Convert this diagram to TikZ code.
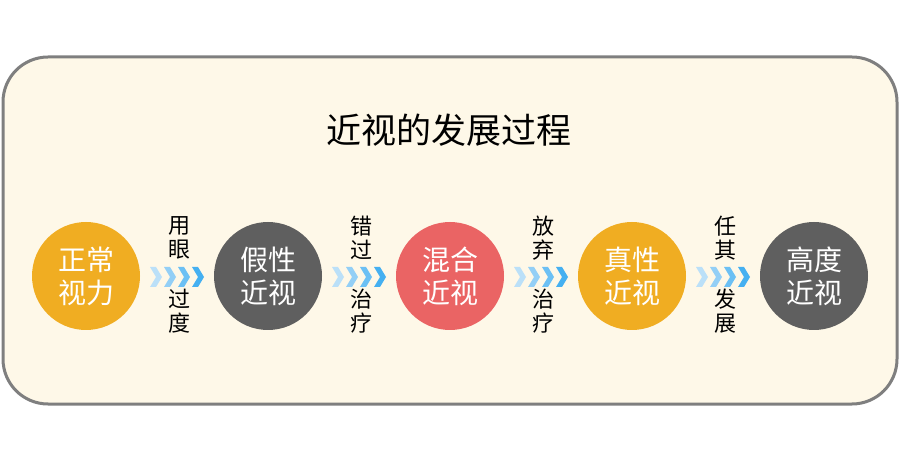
\documentclass[tikz,border=0pt]{standalone}
\usepackage{fontspec}
\setmainfont{Noto Sans CJK SC}
\usetikzlibrary{calc}
\definecolor{bg}{HTML}{FEF8E8}
\definecolor{border}{HTML}{7F7F7F}
\definecolor{corange}{HTML}{F0AD22}
\definecolor{cgray}{HTML}{5F5F5F}
\definecolor{cred}{HTML}{EA6464}
\definecolor{chA}{HTML}{BBE0F8}
\definecolor{chB}{HTML}{93CFF6}
\definecolor{chC}{HTML}{6CC0F4}
\definecolor{chD}{HTML}{45B0F1}
\begin{document}
\begin{tikzpicture}[x=1pt,y=-1pt,
  stage/.style={circle, minimum size=108pt, inner sep=0pt, text=white, align=center, font=\fontsize{28}{33}\selectfont},
  lab/.style={align=center, inner sep=0pt, text=black, font=\fontsize{22}{23.5}\selectfont}]
\useasboundingbox (0,0) rectangle (900,462);
\draw[line width=3pt, draw=border, fill=bg, rounded corners=45pt] (3,57) rectangle (897,404);
\node[font=\fontsize{35}{40}\selectfont] (title) at (449,130) {近视的发展过程};
\node[stage, fill=corange] (c1) at (86,276) {正常\\视力};
\node[stage, fill=cgray] (c2) at (268,276) {假性\\近视};
\node[stage, fill=cred] (c3) at (450,276) {混合\\近视};
\node[stage, fill=corange] (c4) at (632,276) {真性\\近视};
\node[stage, fill=cgray] (c5) at (814,276) {高度\\近视};
\coordinate (g1) at ($(c1.east)!0.5!(c2.west)$);
\coordinate (g2) at ($(c2.east)!0.5!(c3.west)$);
\coordinate (g3) at ($(c3.east)!0.5!(c4.west)$);
\coordinate (g4) at ($(c4.east)!0.5!(c5.west)$);
\foreach \g in {g1,g2,g3,g4} {
  \foreach \i/\c in {0/chA,1/chB,2/chC,3/chD} {
    \fill[\c] ($(\g)+(-27+14*\i,-9)$) -- ++(6,0) -- ++(6,10) -- ++(-6,10) -- ++(-6,0) -- ++(6,-10) -- cycle;
  }
}
\node[lab] (t1) at ($(g1)+(2,-38)$) {用\\眼};
\node[lab] (b1) at ($(g1)+(2,35)$) {过\\度};
\node[lab] (t2) at ($(g2)+(2,-38)$) {错\\过};
\node[lab] (b2) at ($(g2)+(2,35)$) {治\\疗};
\node[lab] (t3) at ($(g3)+(2,-38)$) {放\\弃};
\node[lab] (b3) at ($(g3)+(2,35)$) {治\\疗};
\node[lab] (t4) at ($(g4)+(2,-38)$) {任\\其};
\node[lab] (b4) at ($(g4)+(2,35)$) {发\\展};
\end{tikzpicture}
\end{document}
